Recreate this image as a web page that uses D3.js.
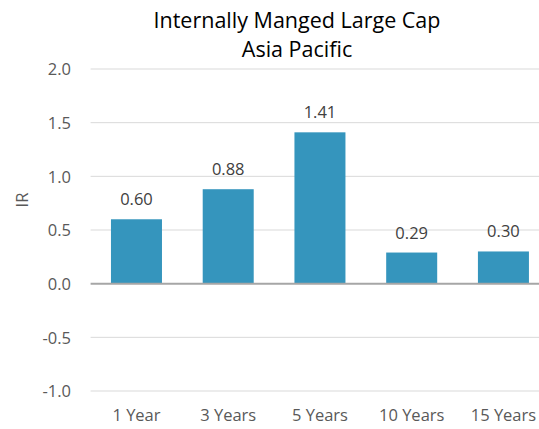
<!DOCTYPE html>
<html><head><meta charset="utf-8">
<script src="https://cdn.jsdelivr.net/npm/d3@7"></script>
<style>body{margin:0;background:#fff}svg{display:block}</style>
</head><body>
<svg id="c" width="539" height="429"></svg>
<script>
const categories = ["1 Year","3 Years","5 Years","10 Years","15 Years"];
const values = [0.60, 0.88, 1.41, 0.29, 0.30];
const yTicks = [-1.0,-0.5,0.0,0.5,1.0,1.5,2.0];
const titleLines = ["Internally Manged Large Cap","Asia Pacific"];
const yLabel = "IR";

const font = "'Open Sans', sans-serif";
const svg = d3.select("#c");
const x = d3.scaleBand().domain(categories).range([90.6, 549.3]).paddingInner(0.444).paddingOuter(0.222);
const y = d3.scaleLinear().domain([-1, 2]).range([391, 69]);
const fmt1 = d => d3.format(".1f")(d).replace("\u2212", "-");

// gridlines
svg.append("g").selectAll("line").data(yTicks.filter(d=>d!==0)).join("line")
  .attr("x1", 90.6).attr("x2", 539).attr("y1", d=>y(d)).attr("y2", d=>y(d))
  .attr("stroke", "#d9d9d9").attr("stroke-width", 1);

// y axis labels
const yAxis = d3.axisLeft(y).tickValues(yTicks).tickFormat(fmt1).tickSize(0).tickPadding(0);
const ya = svg.append("g").attr("transform","translate(71,0)").call(yAxis);
ya.select(".domain").remove();
ya.selectAll("text").attr("font-family", font).attr("font-size", 16.5).attr("fill", "#595959").attr("dy","0.36em");

// bars
svg.append("g").selectAll("rect").data(values).join("rect")
  .attr("x", (d,i)=>x(categories[i])).attr("width", x.bandwidth())
  .attr("y", d=>y(Math.max(0,d))).attr("height", d=>Math.abs(y(d)-y(0)))
  .attr("fill", "#3595bd");

// zero line
svg.append("line").attr("x1", 90.6).attr("x2", 539).attr("y1", y(0)).attr("y2", y(0))
  .attr("stroke", "#a6a6a6").attr("stroke-width", 2);

// data labels
svg.append("g").selectAll("text").data(values).join("text")
  .attr("x", (d,i)=>x(categories[i]) + x.bandwidth()/2)
  .attr("y", d=>y(d) - 14)
  .attr("text-anchor","middle").attr("font-family", font).attr("font-size", 16.5).attr("fill", "#404040")
  .text(d=>d3.format(".2f")(d));

// x axis labels
const xAxis = d3.axisBottom(x).tickSize(0).tickPadding(0);
const xa = svg.append("g").attr("transform","translate(0,421)").call(xAxis);
xa.select(".domain").remove();
xa.selectAll("text").attr("font-family", font).attr("font-size", 16.5).attr("fill", "#595959").attr("dy","0");

// y label
svg.append("text").attr("transform","translate(28,200) rotate(-90)").attr("text-anchor","middle")
  .attr("font-family", font).attr("font-size", 16.5).attr("fill", "#595959").text(yLabel);

// title
svg.append("g").selectAll("text").data(titleLines).join("text")
  .attr("x", 297).attr("y", (d,i)=>28 + i*29).attr("text-anchor","middle")
  .attr("font-family", font).attr("font-size", 21.5).attr("fill", "#000").text(d=>d);
</script>
</body></html>
